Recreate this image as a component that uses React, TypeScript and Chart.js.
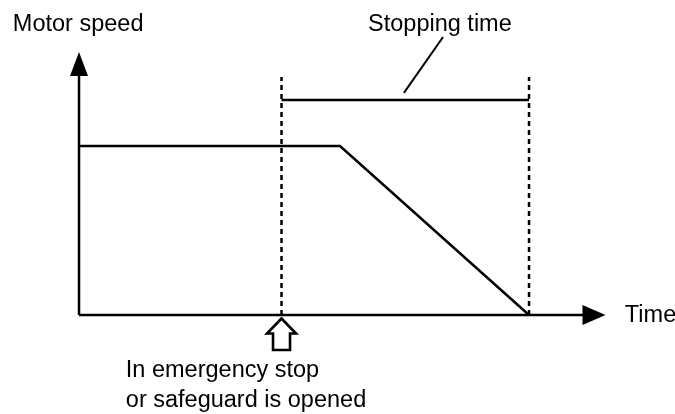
import React, { useEffect, useRef } from "react";
import { Chart, registerables } from "chart.js";

Chart.register(...registerables);

// Time axis positions (arbitrary time units)
const timeMarks = { emergency: 4.5, decelStart: 5.8, stop: 10, axisEnd: 11.7 };
// Speed values (percent)
const speedLevel = 100;
const yAxisEnd = 155.6;
const dashTop = 140.8;
const bracketLevel = 127.2;

const speedTimes = [0, timeMarks.decelStart, timeMarks.stop];
const speedValues = [speedLevel, speedLevel, 0];

const leaderTimes = [7.22, 8.09];
const leaderValues = [131.4, 164.5];

const xRange = [-1.756, 13.244];
const yRange = [-58.6, 186.4];

// Labels: text, x, baseline y, alignment
const labelTexts = ["Motor speed", "Stopping time", "Time", "In emergency stop", "or safeguard is opened"];
const labelX = [-1.47, 8.02, 12.13, 1.04, 1.04];
const labelY = [168.1, 167.8, -4.15, -36.7, -54.5];
const labelAlign: CanvasTextAlign[] = ["left", "center", "left", "left", "left"];

const pts = (xs: number[], ys: number[]) => xs.map((x, i) => ({ x, y: ys[i] }));

export default function App() {
  const ref = useRef<HTMLCanvasElement>(null);
  useEffect(() => {
    if (!ref.current) return;
    const black = "#000";
    const solid = (data: { x: number; y: number }[]) => ({
      data,
      borderColor: black,
      borderWidth: 2.5,
      pointRadius: 0,
      showLine: true,
      fill: false,
      tension: 0,
    });
    const dashed = (data: { x: number; y: number }[]) => ({
      ...solid(data),
      borderWidth: 2.5,
      borderDash: [5, 4],
    });

    const decor = {
      id: "decor",
      afterDatasetsDraw(chart: any) {
        const ctx = chart.ctx as CanvasRenderingContext2D;
        const xs = chart.scales.x;
        const ys = chart.scales.y;
        const x0 = xs.getPixelForValue(0);
        const y0 = ys.getPixelForValue(0);
        ctx.save();
        ctx.fillStyle = black;
        // y axis arrowhead
        const yt = ys.getPixelForValue(yAxisEnd);
        ctx.beginPath();
        ctx.moveTo(x0, yt);
        ctx.lineTo(x0 - 9, yt + 24);
        ctx.lineTo(x0 + 9, yt + 24);
        ctx.closePath();
        ctx.fill();
        // x axis arrowhead
        const xt = xs.getPixelForValue(timeMarks.axisEnd);
        ctx.beginPath();
        ctx.moveTo(xt, y0);
        ctx.lineTo(xt - 23, y0 - 10);
        ctx.lineTo(xt - 23, y0 + 10);
        ctx.closePath();
        ctx.fill();
        // hollow up arrow at emergency stop
        const ex = xs.getPixelForValue(timeMarks.emergency);
        const tip = y0 + 3.5;
        ctx.beginPath();
        ctx.moveTo(ex, tip);
        ctx.lineTo(ex + 14.5, tip + 15);
        ctx.lineTo(ex + 8.5, tip + 15);
        ctx.lineTo(ex + 8.5, tip + 31.5);
        ctx.lineTo(ex - 8.5, tip + 31.5);
        ctx.lineTo(ex - 8.5, tip + 15);
        ctx.lineTo(ex - 14.5, tip + 15);
        ctx.closePath();
        ctx.fillStyle = "#fff";
        ctx.fill();
        ctx.lineWidth = 2.6;
        ctx.strokeStyle = black;
        ctx.lineJoin = "miter";
        ctx.stroke();
        // labels
        ctx.fillStyle = black;
        ctx.font = '23.5px "Liberation Sans", Arial, sans-serif';
        ctx.textBaseline = "alphabetic";
        labelTexts.forEach((t, i) => {
          ctx.textAlign = labelAlign[i];
          ctx.fillText(t, xs.getPixelForValue(labelX[i]), ys.getPixelForValue(labelY[i]));
        });
        ctx.restore();
      },
    };

    const chart = new Chart(ref.current, {
      type: "scatter",
      data: {
        datasets: [
          solid(pts([0, 0], [0, yAxisEnd - 5])),
          solid(pts([0, timeMarks.axisEnd - 0.2], [0, 0])),
          solid(pts(speedTimes, speedValues)),
          dashed(pts([timeMarks.emergency, timeMarks.emergency], [0, dashTop])),
          dashed(pts([timeMarks.stop, timeMarks.stop], [0, dashTop])),
          solid(pts([timeMarks.emergency, timeMarks.stop], [bracketLevel, bracketLevel])),
          { ...solid(pts(leaderTimes, leaderValues)), borderWidth: 2 },
        ] as any,
      },
      options: {
        animation: false,
        responsive: false,
        layout: { padding: 0 },
        plugins: { legend: { display: false }, tooltip: { enabled: false } },
        scales: {
          x: { type: "linear", display: false, min: xRange[0], max: xRange[1] },
          y: { type: "linear", display: false, min: yRange[0], max: yRange[1] },
        },
      },
      plugins: [decor],
    });
    return () => chart.destroy();
  }, []);
  return (
    <div style={{ position: "fixed", left: 0, top: 0, width: 675, height: 414, background: "#fff" }}>
      <canvas ref={ref} width={675} height={414} />
    </div>
  );
}
